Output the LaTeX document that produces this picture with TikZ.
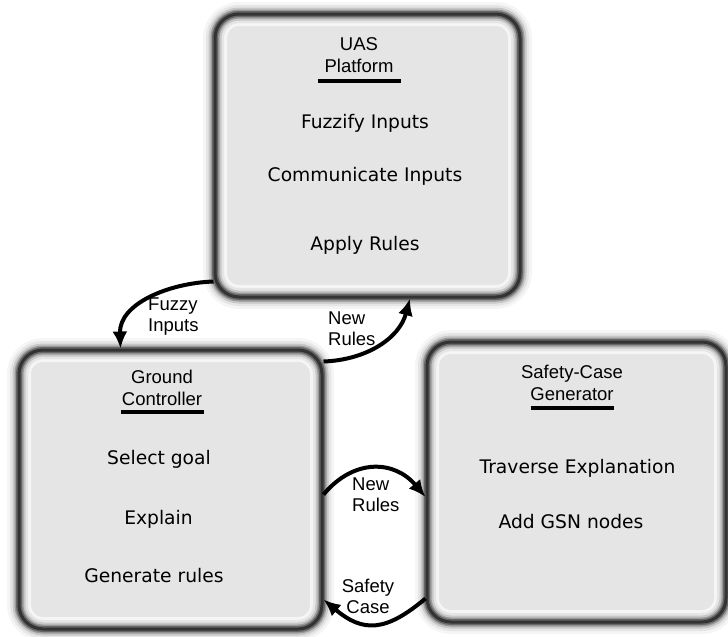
\documentclass[tikz,border=0pt]{standalone}
\usepackage{fontspec}
\setmainfont{DejaVu Sans}
\newfontfamily\headfont{Liberation Sans}
\usetikzlibrary{arrows.meta}

\begin{document}
\begin{tikzpicture}[x=1pt,y=-1pt,
    panel/.style={rectangle, rounded corners=24pt, inner sep=0pt,
        preaction={fill=black!10},
        preaction={draw=black!4, line width=24pt},
        preaction={draw=black!10, line width=18pt},
        preaction={draw=black!22, line width=13pt},
        preaction={draw=black!40, line width=9pt},
        preaction={draw=black!60, line width=6pt},
        draw=black!80, line width=3pt},
    heading/.style={font=\headfont\fontsize{18.5}{22}\selectfont, align=center,
        inner sep=0pt, anchor=south},
    item/.style={font=\fontsize{18.7}{21}\selectfont, inner sep=0pt, anchor=base},
    flowlabel/.style={font=\headfont\fontsize{18.5}{21}\selectfont, inner sep=0pt},
    flow/.style={line width=4pt, -{Latex[length=17pt,width=15pt]}},
    bar/.style={line width=4pt}
]
    \useasboundingbox (0,0) rectangle (728,637);

    % Draw the three boxes
    \node[panel, minimum width=305pt, minimum height=283pt] (uas) at (367.5,155.5) {};
    \node[panel, minimum width=303pt, minimum height=279pt] (gc) at (170.5,489.5) {};
    \node[panel, minimum width=299pt, minimum height=280pt] (sc) at (576.5,482) {};

    % UAS platform
    \node[heading] (uasT) at (359,73) {UAS\\Platform};
    \draw[bar] ([xshift=-41.5pt,yshift=-7.5pt]uasT.south) -- ++(83,0);
    \node[item] (uasA) at (365,128) {Fuzzify Inputs};
    \node[item] (uasB) at (365,181) {Communicate Inputs};
    \node[item] (uasC) at (365,250) {Apply Rules};

    % Ground controller
    \node[heading] (gcT) at (162,406) {Ground\\Controller};
    \draw[bar] ([xshift=-41.5pt,yshift=-5.5pt]gcT.south) -- ++(83,0);
    \node[item] (gcA) at (159,464) {Select goal};
    \node[item] (gcB) at (158.5,524) {Explain};
    \node[item] (gcC) at (154,582) {Generate rules};

    % Safety-case generator
    \node[heading] (scT) at (572,401) {Safety-Case\\Generator};
    \draw[bar] ([xshift=-41.5pt,yshift=-7pt]scT.south) -- ++(83,0);
    \node[item] (scA) at (577.5,473) {Traverse Explanation};
    \node[item] (scB) at (571,528) {Add GSN nodes};

    % Arrows between the boxes
    \draw[flow] ([yshift=17pt]uas.south west) to[out=182,in=92] ([xshift=103pt]gc.north west);
    \draw[flow] ([yshift=-13pt]gc.north east) to[out=2,in=-105] ([xshift=42.5pt]uas.south);
    \draw[flow] ([yshift=-5pt]gc.east) to[out=50,in=130,looseness=1.2] ([yshift=-15pt]sc.west);
    \draw[flow] ([yshift=25pt]sc.south west) to[out=-140,in=-40,looseness=1.3] ([yshift=31pt]gc.south east);

    % Arrow labels
    \node[flowlabel, anchor=north west, align=left] (fuzzyL) at (148,298) {Fuzzy\\Inputs};
    \node[flowlabel, anchor=north west, align=left] (upL) at (328,312) {New\\Rules};
    \node[flowlabel, anchor=north west, align=left] (rightL) at (352,478) {New\\Rules};
    \node[flowlabel, anchor=north, align=center] (caseL) at (368,579) {Safety\\Case};
\end{tikzpicture}
\end{document}
